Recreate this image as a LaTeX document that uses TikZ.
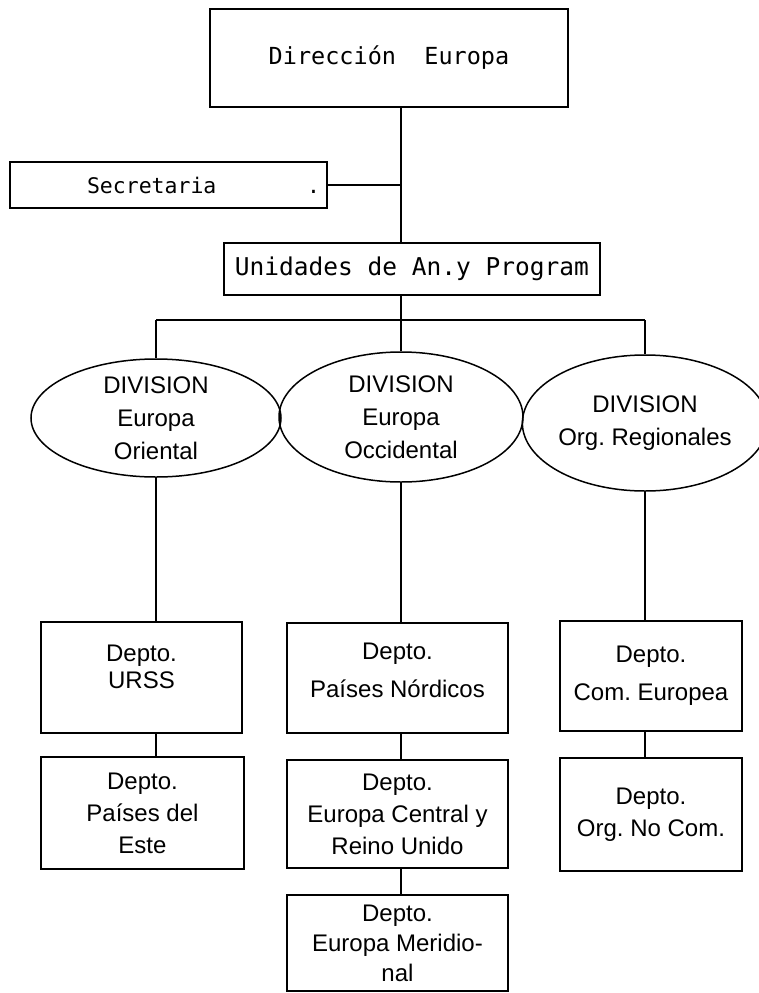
\documentclass[tikz,border=0pt]{standalone}
\usepackage{fontspec}
\setmainfont{Liberation Sans}
\newfontfamily\typefont{DejaVu Sans Mono}
\usetikzlibrary{shapes.geometric}
\frenchspacing

\begin{document}
\begin{tikzpicture}[x=1pt,y=-1pt,line width=1.5pt,
    mainbox/.style={draw,rectangle,inner sep=0pt,align=center,font=\typefont\fontsize{23.5}{30}\selectfont},
    deptbox/.style={draw,rectangle,inner sep=0pt,align=center,minimum width=221pt,font=\fontsize{24}{32}\selectfont},
    divnode/.style={draw,ellipse,inner sep=0pt,align=center,font=\fontsize{24}{33}\selectfont}]
    \useasboundingbox (0,0) rectangle (758,993);

    % Top boxes
    \node[mainbox,minimum width=358pt,minimum height=98pt] (dir) at (389,58) {Dirección\ \ Europa};
    \node[mainbox,minimum width=317pt,minimum height=46pt] (secr) at (168.5,185) {\hspace*{70pt}\makebox[233pt][l]{\fontsize{21.5}{30}\selectfont Secretaria\hfill.}};
    \node[mainbox,minimum width=376pt,minimum height=52pt,font=\typefont\fontsize{24.5}{30}\selectfont] (unid) at (412,269) {Unidades de An.y Program};
    \coordinate (trunk) at (401,320);

    % Divisions
    \node[divnode,minimum width=250pt,minimum height=118pt] (divO) at (156,418) {DIVISION\\Europa\\Oriental};
    \node[divnode,minimum width=244pt,minimum height=130pt] (divW) at (401,417) {DIVISION\\Europa\\Occidental};
    \node[divnode,minimum width=232pt,minimum height=136pt] (divR) at (645,423) {DIVISION\\Org. Regionales};

    % Departments
    \node[deptbox,minimum width=201pt,minimum height=111pt] (urss) at (141.5,677.5) {Depto.\\[-5pt]URSS\\[-10pt]~};
    \node[deptbox,minimum height=110pt] (nord) at (397.5,678) {Depto.\\[6pt]Países Nórdicos\\[-16pt]~};
    \node[deptbox,minimum width=182pt,minimum height=110pt] (come) at (651,676) {Depto.\\[6pt]Com. Europea};
    \node[deptbox,minimum width=203pt,minimum height=112pt] (este) at (142.5,813) {Depto.\\Países del\\Este};
    \node[deptbox,minimum height=108pt] (cent) at (397.5,814) {Depto.\\Europa Central y\\Reino Unido};
    \node[deptbox,minimum width=182pt,minimum height=113pt] (orgn) at (651,814.5) {Depto.\\Org. No Com.};
    \node[deptbox,minimum height=96pt,font=\fontsize{24}{30}\selectfont] (meri) at (397.5,943) {Depto.\\Europa Meridio-\\nal};

    % Draw lines
    \draw (dir.south -| trunk) -- (unid.north -| trunk); % main trunk
    \draw (secr.east) -- (secr.east -| trunk);
    \draw (unid.south -| trunk) -- (trunk);
    \draw (divO.north |- trunk) -- (divR.north |- trunk); % bar over divisions
    \draw (divO.north |- trunk) -- (divO.north);
    \draw (trunk) -- (divW.north);
    \draw (divR.north |- trunk) -- (divR.north);

    % Division to departments
    \draw (divO.south) -- (divO.south |- urss.north);
    \draw (divW.south) -- (divW.south |- nord.north);
    \draw (divR.south) -- (divR.south |- come.north);
    \draw (urss.south -| divO) -- (este.north -| divO);
    \draw (nord.south -| divW) -- (cent.north -| divW);
    \draw (cent.south -| divW) -- (meri.north -| divW);
    \draw (come.south -| divR) -- (orgn.north -| divR);
\end{tikzpicture}
\end{document}
